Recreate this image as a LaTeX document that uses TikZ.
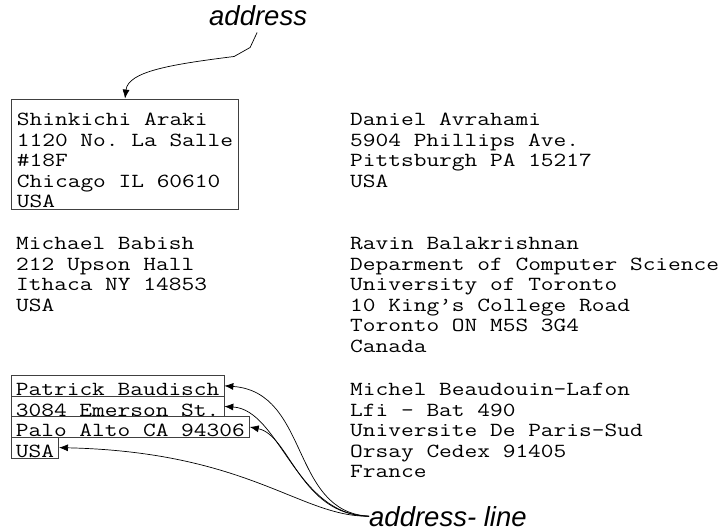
\documentclass[tikz,border=0pt]{standalone}
\usepackage{fontspec}
\usetikzlibrary{arrows.meta}

\setmonofont{Latin Modern Mono}[FakeStretch=1.235]
\newfontfamily\tagfont{Liberation Sans}

\tikzset{
  addr/.style={font=\ttfamily\fontsize{20}{20.6}\selectfont, align=left,
    inner sep=0pt, anchor=base west},
  framed/.style={addr, draw=black!75, line width=0.8pt, inner xsep=5.5pt, inner ysep=0pt},
  linebox/.style={addr, draw=black!75, line width=0.8pt, inner xsep=4.5pt, inner ysep=0pt,
    text height=20pt, text depth=0.6pt},
  tag/.style={font=\tagfont\itshape\fontsize{27.5}{30}\selectfont, inner sep=0pt,
    anchor=base west},
  pointer/.style={-{Latex[length=9pt,width=7pt]}, line width=0.7pt},
}

\begin{document}
\begin{tikzpicture}[x=1pt, y=-1pt]
  \useasboundingbox (0,0) rectangle (725,531);

  % the two labels
  \node[tag] (tagtop) at (209,25) {address};
  \node[tag] (tagline) at (369,526) {address- line};

  % blocks are placed at the baseline of their last line
  % first row: whole address in one frame
  \node[framed, text height=108.9pt, text depth=1.6pt] (araki) at (11,207.9)
    {Shinkichi Araki\\1120 No. La Salle\\\#18F\\Chicago IL 60610\\USA};
  \node[addr] (avrahami) at (350,187.3)
    {Daniel Avrahami\\5904 Phillips Ave.\\Pittsburgh PA 15217\\USA};

  % second row
  \node[addr] (babish) at (16,311.3)
    {Michael Babish\\212 Upson Hall\\Ithaca NY 14853\\USA};
  \node[addr] (balak) at (350,352.5)
    {Ravin Balakrishnan\\Deparment of Computer Science\\University of Toronto\\10 King’s College Road\\Toronto ON M5S 3G4\\Canada};

  % third row: one frame per line
  \node[linebox] (pname) at (11,395.5) {Patrick Baudisch};
  \node[linebox] (pstreet) at (11,416.1) {3084 Emerson St.};
  \node[linebox] (pcity) at (11,436.7) {Palo Alto CA 94306};
  \node[linebox] (pcountry) at (11,457.3) {USA};
  \node[addr] (beaudouin) at (350,477.9)
    {Michel Beaudouin-Lafon\\Lfi - Bat 490\\Universite De Paris-Sud\\Orsay Cedex 91405\\France};

  % pointers
  \draw[pointer] ([xshift=-1pt,yshift=-7pt]tagtop.south) -- ++(-7,15) -- ++(-16,9)
    .. controls +(-64,8) and +(3,-27) .. (araki.north);
  \draw[pointer] (tagline.west) .. controls (290,512) and (310,392) .. (pname.east);
  \draw[pointer] (tagline.west) .. controls (295,515) and (280,410) .. (pstreet.east);
  \draw[pointer] (tagline.west) .. controls (300,515) and (290,435) .. (pcity.east);
  \draw[pointer] (tagline.west) .. controls (300,517) and (250,452) .. (pcountry.east);
\end{tikzpicture}
\end{document}
